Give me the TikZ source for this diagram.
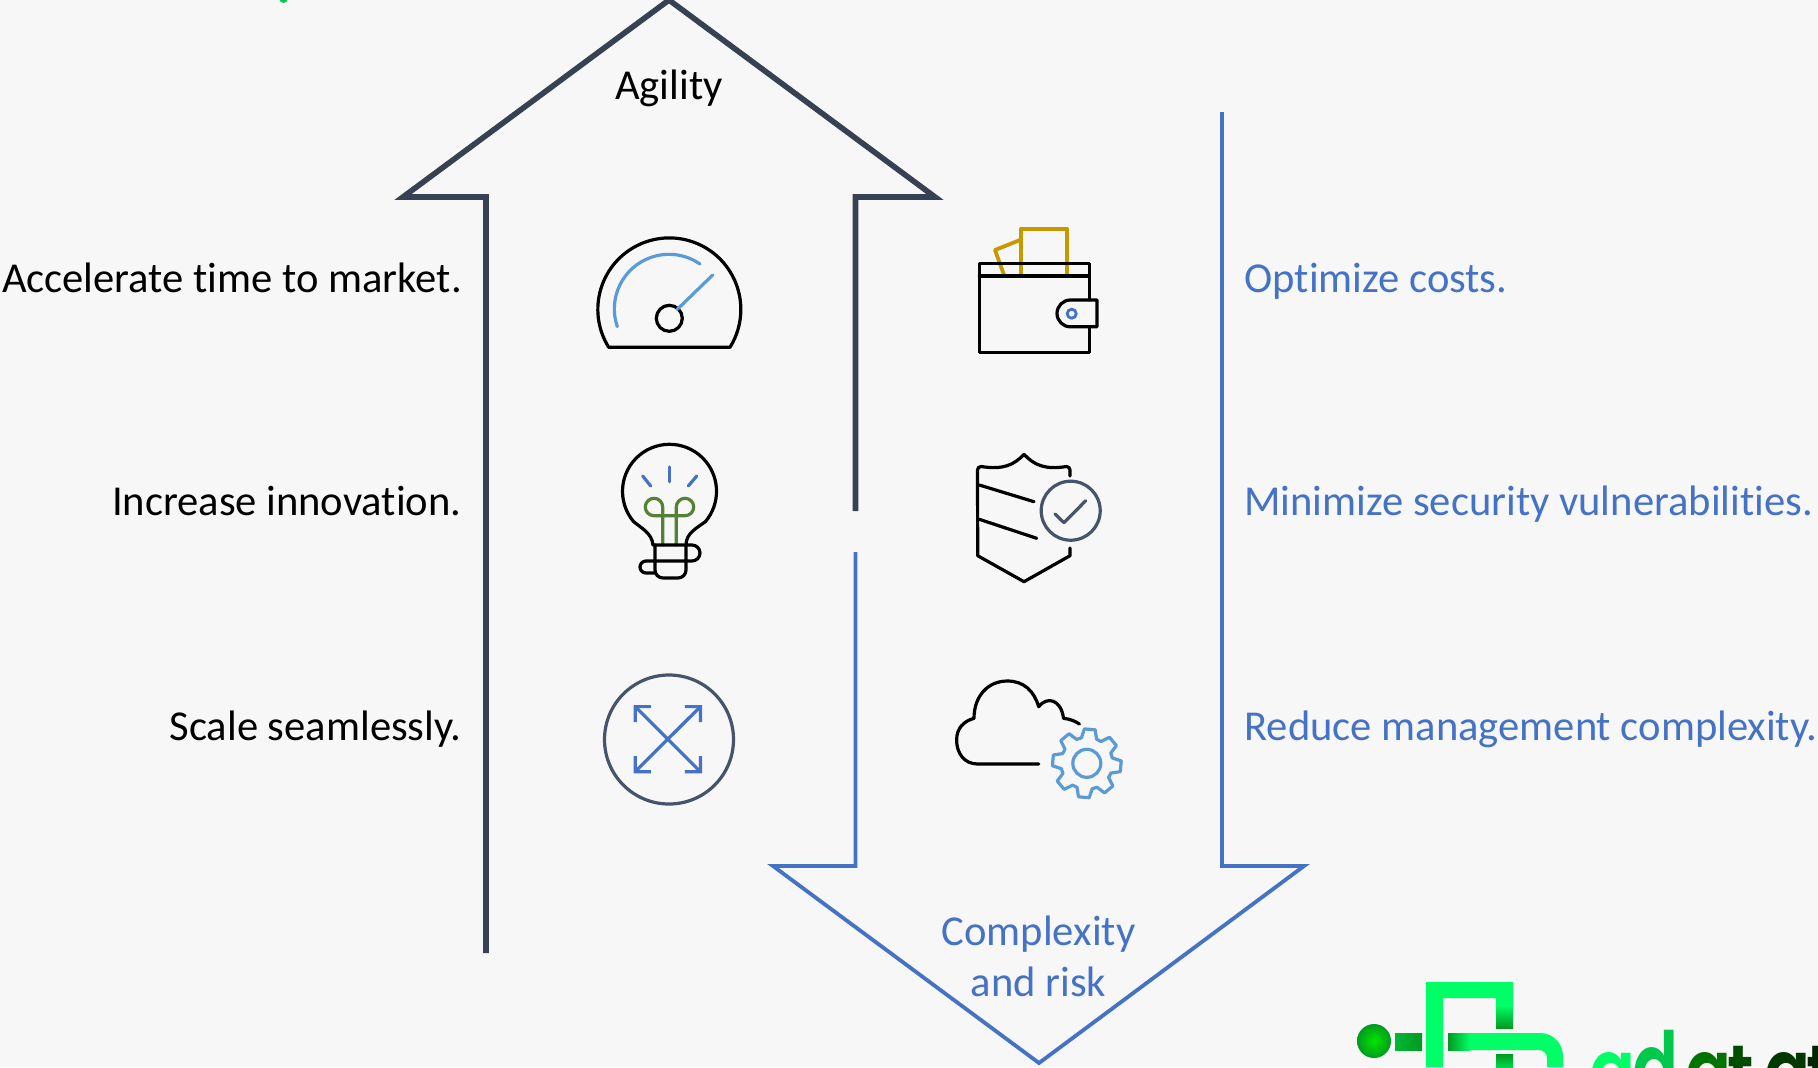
\documentclass[tikz,border=0pt]{standalone}
\usepackage{fontspec}
\setmainfont[Ligatures=NoCommon]{Carlito}
\newfontfamily\logofont{Poppins SemiBold}
\usetikzlibrary{arrows.meta,positioning}
\definecolor{bgcol}{HTML}{F7F7F7}
\definecolor{slatecol}{HTML}{364254}
\definecolor{ringcol}{HTML}{44546A}
\definecolor{bluecol}{HTML}{4472C4}
\definecolor{skycol}{HTML}{5B9BD5}
\definecolor{leafcol}{HTML}{548235}
\definecolor{goldcol}{HTML}{C79800}
\definecolor{logocol}{HTML}{00FF66}
\definecolor{logomid}{HTML}{00C84C}
\definecolor{logodark}{HTML}{009A20}
\tikzstyle{uparrow} = [draw=slatecol,line width=2.8pt,miter limit=10]
\tikzstyle{downarrow} = [draw=bluecol,line width=1.9pt,miter limit=10]
\tikzstyle{leftlabel} = [anchor=base east,inner sep=0,font=\fontsize{21.3}{24}\selectfont,text=black]
\tikzstyle{rightlabel} = [anchor=base west,inner sep=0,font=\fontsize{21.3}{24}\selectfont,text=bluecol]
\tikzstyle{midlabel} = [anchor=base,inner sep=0,font=\fontsize{21.3}{24}\selectfont]
\tikzstyle{icon} = [draw=black,line width=1.6pt,line join=round,line cap=round]
\tikzstyle{logoletter} = [anchor=base west,inner sep=0,font=\logofont\fontsize{37}{37}\selectfont]
\tikzstyle{logobar} = [fill=logocol,draw=none]
\def \barb {Straight Barb[length=5.5pt,width=11pt]}
\def \lg #1#2{\scalebox{0.92}[#1]{#2}}
\begin{document}
\begin{tikzpicture}[x=0.5pt,y=-0.5pt]
      \useasboundingbox (0,0) rectangle (1818,1067);
      \clip (0,0) rectangle (1818,1067);
      \fill[bgcol] (0,0) rectangle (1818,1067);
      \fill[logomid] (283.5,-1) circle (4);
      % arrows
      \coordinate (uptip) at (669,0);
      \coordinate (downtip) at (1039,1063);
      \draw[uparrow] (486,953) -- (486,197) -- (403,197) -- (uptip) -- (935,197) -- (855.5,197) -- (855.5,511);
      \draw[downarrow] (855.5,552) -- (855.5,866) -- (773,866) -- (downtip) -- (1304,866) -- (1222,866) -- (1222,112);
      % labels
      \node[midlabel] (agility) at (669,99) {Agility};
      \node[leftlabel] (accel) at (462,292.5) {Accelerate time to market.};
      \node[leftlabel] (innov) at (462,515.5) {Increase innovation.};
      \node[leftlabel] (scale) at (462,740.5) {Scale seamlessly.};
      \node[rightlabel] (costs) at (1244,292.5) {Optimize costs.};
      \node[rightlabel] (vuln) at (1244,515.5) {Minimize security vulnerabilities.};
      \node[rightlabel] (mgmt) at (1244,740.5) {Reduce management complexity.};
      \node[midlabel,text=bluecol] (complexity) at (1038.5,945) {Complexity};
      \node[midlabel,text=bluecol] (risk) at (1038.5,996) {and risk};
      % gauge
      \draw[icon] (608.7,347.3) arc[start angle=148,end angle=392,radius=71.5] -- cycle;
      \draw[icon] (669.3,318.3) circle (13);
      \draw[icon,draw=skycol] (617.3,326.7) arc[start angle=161,end angle=304.6,radius=54.6];
      \draw[icon,draw=skycol] (677.3,309.3) -- (712.7,275);
      % bulb
      \draw[icon] (653,545) .. controls (652,533) and (641,528) .. (633.5,521.5) arc[start angle=140,end angle=400,radius=47] .. controls (697,528) and (686,533) .. (686,545);
      \draw[icon,draw=leafcol] (662.7,545) -- (662.7,507) arc[start angle=0,end angle=-270,radius=8.7] -- (685,515.7) arc[start angle=90,end angle=-180,radius=8.7] -- (676.3,545);
      \draw[icon] (655,545) -- (655,570) arc[start angle=180,end angle=90,radius=8] -- (678,578) arc[start angle=90,end angle=0,radius=8] -- (686,545);
      \draw[icon] (653,545) -- (692,545) arc[start angle=-90,end angle=90,radius=8] -- (646,561) arc[start angle=-90,end angle=-270,radius=6] -- (655,573);
      \draw[icon,draw=bluecol] (669.3,467) -- (669.3,481.7);
      \draw[icon,draw=bluecol] (642.7,476) -- (650.7,486);
      \draw[icon,draw=bluecol] (696.7,476) -- (688.3,486);
      % expand
      \draw[icon,draw=ringcol] (669,739.5) circle (64.5);
      \draw[icon,draw=bluecol,{\barb}-{\barb}] (633.6,705) -- (702,773.3);
      \draw[icon,draw=bluecol,{\barb}-{\barb}] (702,705) -- (633.6,773.3);
      % wallet
      \draw[icon,draw=goldcol,line width=1.9pt] (1020.7,276) -- (1020.7,229.3) -- (1067.3,229.3) -- (1067.3,276);
      \draw[icon,draw=goldcol,line width=1.9pt] (1020,240) -- (995,250) -- (1004,275);
      \draw[icon] (979.3,276) -- (979.3,263.3) -- (1089.3,263.3) -- (1089.3,300);
      \draw[icon] (979.3,276) -- (1089.3,276);
      \draw[icon] (979.3,276) -- (979.3,352.7) -- (1089.3,352.7) -- (1089.3,327);
      \draw[icon] (1097,300) -- (1070.4,300) arc[start angle=270,end angle=90,radius=13.4] -- (1097,326.8) -- cycle;
      \draw[bluecol,line width=1.4pt] (1071.7,313.7) circle (4.5);
      % shield
      \draw[icon] (1070,476) -- (1070,470) arc[start angle=0,end angle=-90,radius=3.5] .. controls (1045,470) and (1034,465) .. (1024,454.3) .. controls (1014,465) and (1003,470) .. (981,466.5) arc[start angle=-90,end angle=-180,radius=3.5] -- (977.7,555.7) -- (1024,581.7) -- (1070,555.7) -- (1070,548);
      \draw[icon] (979.3,485) -- (1034,501.7);
      \draw[icon] (979.3,519.3) -- (1036.7,538.3);
      \draw[icon,draw=ringcol] (1070.7,510.7) circle (29.5);
      \draw[icon,draw=ringcol] (1055,514) -- (1064,522.7) -- (1085.7,500.7);
      % cloud
      \draw[icon] (1038.7,764) -- (977.7,764) .. controls (964,764) and (956.6,753) .. (956.6,740) .. controls (956.6,728) and (964,721) .. (974,718.3) .. controls (974,696) and (988,681) .. (1007.3,681) .. controls (1024,681) and (1034,691) .. (1038.7,706.7) .. controls (1047,696) and (1061,699) .. (1063.5,718.3) .. controls (1070,719) and (1075,721) .. (1079.4,724);
      \begin{scope}[shift={(1086.8,763.3)}]
        \draw[icon,draw=skycol] (-17:26) \foreach \a in {0,45,...,315} { -- ({\a-17+5}:26) -- ({\a-9+5}:34.5) -- ({\a+9+5}:34.5) -- ({\a+17+5}:26) } -- cycle;
        \draw[icon,draw=skycol] (0,0) circle (14);
      \end{scope}
      % logo
      \shade[inner color=green!90!black,outer color=logodark] (1374,1041) circle (17);
      \shade[left color=logodark!70!logocol,right color=logodark] (1395,1033) rectangle (1422,1050);
      \fill[logobar] (1426,1067) -- (1426,982) -- (1513,982) -- (1513,1005) -- (1496,1005) -- (1496,998) -- (1443,998) -- (1443,1067) -- cycle;
      \shade[top color=logocol,bottom color=logodark] (1496,1005) rectangle (1513,1028);
      \fill[logobar] (1470,1033) -- (1540,1033) arc[start angle=-90,end angle=0,radius=23] -- (1563,1067) -- (1547,1067) -- (1547,1058) arc[start angle=0,end angle=-90,radius=8] -- (1470,1050) -- cycle;
      \shade[left color=logodark,right color=logocol] (1448,1033) rectangle (1470,1050);
      \shade[top color=logodark,bottom color=logocol!60!logodark] (1496,1054) rectangle (1513,1067);
      \node[logoletter,text=logocol] (la) at (1589,1102) {\lg{1.2}{a}};
      \node[logoletter,text=logomid] (ld) at (1632,1102) {\lg{1.32}{d}};
      \node[logoletter,text=green!45!black] (lb) at (1685,1102) {\lg{1.2}{a}};
      \node[logoletter,text=green!30!black] (lt) at (1727,1102) {\lg{1.1}{t}};
      \node[logoletter,text=green!22!black] (lc) at (1764,1102) {\lg{1.2}{a}};
      \node[logoletter,text=green!15!black] (lu) at (1806,1102) {\lg{1.1}{t}};
    \end{tikzpicture}
\end{document}
